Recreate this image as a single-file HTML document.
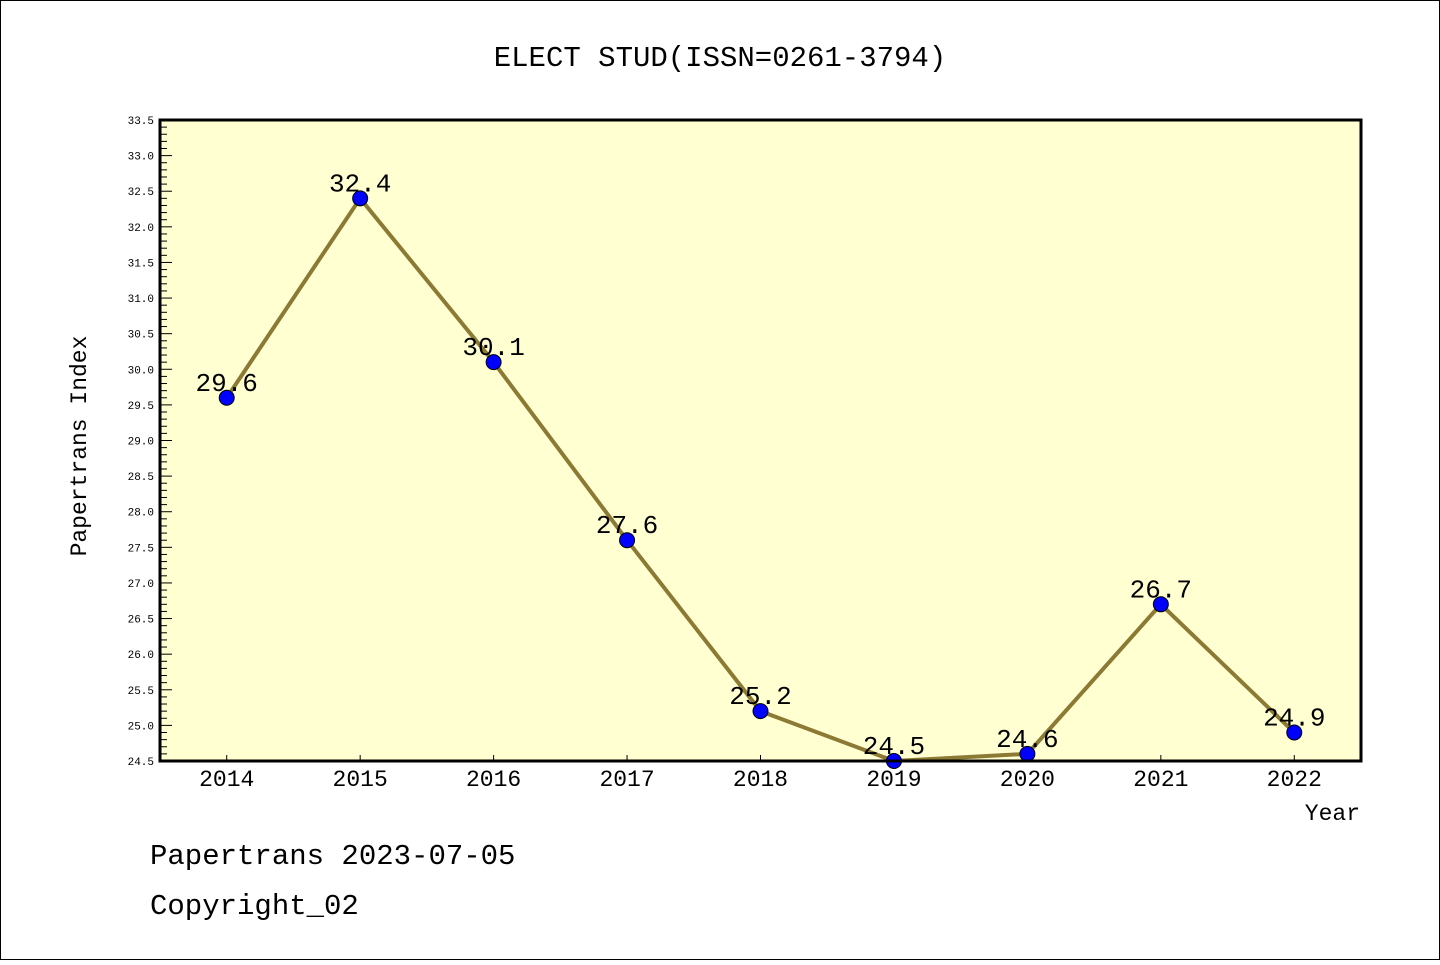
<!DOCTYPE html>
<html><head><meta charset="utf-8"><style>
html,body{margin:0;padding:0;background:#fff;}
svg text{font-family:"Liberation Mono","DejaVu Sans Mono",monospace;}
</style></head><body>
<svg id="chart" width="1440" height="960" xmlns="http://www.w3.org/2000/svg">
<rect x="0.5" y="0.5" width="1439" height="959" fill="#fff" stroke="#000"/>
<text x="720" y="66" font-size="29" text-anchor="middle">ELECT STUD(ISSN=0261-3794)</text>
<rect x="160" y="120" width="1201" height="641" fill="#ffffd2"/>
<g id="axes"></g>
<g id="series"></g>
<rect x="160" y="120" width="1201" height="641" fill="none" stroke="#000" stroke-width="3"/>
<text x="86" y="446" font-size="23" text-anchor="middle" transform="rotate(-90 86 446)">Papertrans Index</text>
<text x="1360" y="820" font-size="23" text-anchor="end">Year</text>
<text x="150" y="864" font-size="29">Papertrans 2023-07-05</text>
<text x="150" y="914" font-size="29">Copyright_02</text>
</svg>
<script>
const categories=["2014","2015","2016","2017","2018","2019","2020","2021","2022"];
const values=[29.6,32.4,30.1,27.6,25.2,24.5,24.6,26.7,24.9];
const labels=["29.6","32.4","30.1","27.6","25.2","24.5","24.6","26.7","24.9"];
const yTicks=["24.5","25.0","25.5","26.0","26.5","27.0","27.5","28.0","28.5","29.0","29.5","30.0","30.5","31.0","31.5","32.0","32.5","33.0","33.5"];
const L=160,R=1361,T=120,B=761,yMin=24.5,yMax=33.5;
const xs=i=>L+(R-L)/categories.length*(i+0.5);
const ys=v=>B-(v-yMin)/(yMax-yMin)*(B-T);
const NS="http://www.w3.org/2000/svg";
function mk(tag,attrs,parent){const e=document.createElementNS(NS,tag);for(const k in attrs)e.setAttribute(k,attrs[k]);parent.appendChild(e);return e;}
const ax=document.getElementById('axes'),se=document.getElementById('series');
// minor ticks
for(let v=yMin;v<=yMax+1e-9;v+=0.1){const y=ys(v);const major=Math.abs(v*2-Math.round(v*2))<1e-6;
 const t=mk('line',{x1:L,x2:L+(major?12:7),y1:y,y2:y,stroke:'#000','stroke-width':1},ax);
 
 }
yTicks.forEach(s=>{const y=ys(parseFloat(s));const t=mk('text',{x:L-6,y:y+4,'font-size':11,'text-anchor':'end'},ax);t.textContent=s;
 
 });
categories.forEach((c,i)=>{const x=xs(i);
 const t=mk('line',{x1:x,x2:x,y1:B,y2:B-6,stroke:'#000','stroke-width':1},ax);
 
 
 const l=mk('text',{x:x,y:B+25,'font-size':23,'text-anchor':'middle'},ax);l.textContent=c;
 
 });
const pl=mk('polyline',{points:values.map((v,i)=>xs(i)+','+ys(v)).join(' '),fill:'none',stroke:'#8c7a34','stroke-width':4},se);


values.forEach((v,i)=>{const c=mk('circle',{cx:xs(i),cy:ys(v),r:7.5,fill:'#0000ff',stroke:'#000','stroke-width':1},se);
 
 
 const t=mk('text',{x:xs(i),y:ys(v)-7,'font-size':26,'text-anchor':'middle',fill:'#000'},se);t.textContent=labels[i];
 
 });
</script>
</body></html>
